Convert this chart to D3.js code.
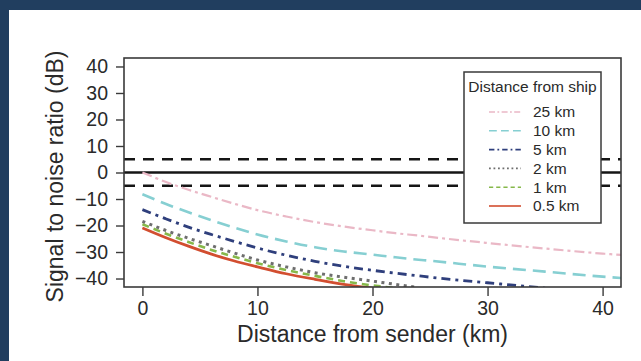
<!DOCTYPE html>
<html>
<head>
<meta charset="utf-8">
<script src="https://cdn.jsdelivr.net/npm/d3@7/dist/d3.min.js"></script>
<style>
  html, body { margin: 0; padding: 0; background: #fff; }
  svg { display: block; font-family: "Liberation Sans", Arial, sans-serif; }
</style>
</head>
<body>
<div id="chart"></div>
<script>
// distance from sender (km) sampled along the curves
const distances = [0, 2, 4, 6, 8, 10, 12.5, 15, 17.5, 20, 22, 24, 25, 30, 35, 40, 41.6];

// SNR (dB) per distance-from-ship (null = below plot)
const snr25 = [0, -3.5, -6.5, -9.2, -11.8, -14.2, -16.6, -18.7, -20.4, -21.8, -22.9, -23.8, -24.3, -26.6, -28.7, -30.6, -31.1];
const snr10 = [-8.2, -11.8, -15, -18, -20.8, -23.4, -26, -28.2, -29.8, -31, -32, -32.9, -33.3, -35.5, -37.4, -39.3, -39.8];
const snr5 = [-14, -17.4, -20.6, -23.4, -26, -28.5, -31.2, -33.5, -35.4, -36.9, -38, -39, -39.5, -41.6, -43.6, null, null];
const snr2 = [-18.4, -21.8, -24.8, -27.6, -30.4, -33, -35.6, -37.8, -39.5, -41, -42.2, -43.4, null, null, null, null, null];
const snr1 = [-19.5, -23, -26.2, -29.2, -31.8, -34.2, -36.8, -39, -41, -42.6, -43.6, null, null, null, null, null, null];
const snr05 = [-20.9, -24.5, -27.8, -30.8, -33.4, -35.6, -38.2, -40.3, -42.2, -43.6, null, null, null, null, null, null, null];

const seriesLabels = ['25 km', '10 km', '5 km', '2 km', '1 km', '0.5 km'];
const seriesValues = [snr25, snr10, snr5, snr2, snr1, snr05];

const yTicks = [-40, -30, -20, -10, 0, 10, 20, 30, 40];
const xTicks = [0, 10, 20, 30, 40];
const thresholds = [-5, 5];

const STYLES = {
  '25 km': { color: '#eab8c6', dash: '10,4,3,4', width: 2.2 },
  '10 km': { color: '#86cfd2', dash: '13,7', width: 2.6 },
  '5 km': { color: '#2f3f7c', dash: '9,5,3,5', width: 2.8 },
  '2 km': { color: '#6e6e6e', dash: '3,4.5', width: 3 },
  '1 km': { color: '#86b84a', dash: '7,5', width: 2.6 },
  '0.5 km': { color: '#d24e30', dash: null, width: 2.8 },
};

const width = 641;
const height = 361;
const plot = { left: 124, right: 621, top: 58, bottom: 287 };

const svg = d3.select('#chart')
  .append('svg')
  .attr('width', width)
  .attr('height', height);

// page frame
svg.append('rect').attr('width', width).attr('height', height).attr('fill', '#fff');
svg.append('rect').attr('width', width).attr('height', 10).attr('fill', '#213e5f');
svg.append('rect').attr('width', 9).attr('height', height).attr('fill', '#213e5f');

const x = d3.scaleLinear().domain([-1.6, 41.6]).range([plot.left, plot.right]);
const y = d3.scaleLinear().domain([-43.2, 43.2]).range([plot.bottom, plot.top]);

svg.append('clipPath').attr('id', 'plot-clip')
  .append('rect')
  .attr('x', plot.left).attr('y', plot.top)
  .attr('width', plot.right - plot.left).attr('height', plot.bottom - plot.top);

// reference lines
const g = svg.append('g').attr('clip-path', 'url(#plot-clip)');

g.append('line')
  .attr('x1', plot.left).attr('x2', plot.right)
  .attr('y1', y(0)).attr('y2', y(0))
  .attr('stroke', '#151515').attr('stroke-width', 2.6);

g.selectAll('line.thr')
  .data(thresholds)
  .join('line')
  .attr('class', 'thr')
  .attr('x1', plot.left).attr('x2', plot.right)
  .attr('y1', d => y(d)).attr('y2', d => y(d))
  .attr('stroke', '#151515').attr('stroke-width', 2.6)
  .attr('stroke-dasharray', '11,8');

// curves
const line = d3.line()
  .defined(d => d[1] !== null)
  .x(d => x(d[0]))
  .y(d => y(d[1]))
  .curve(d3.curveMonotoneX);

const series = seriesLabels.map((label, i) => ({
  label,
  points: distances.map((dist, j) => [dist, seriesValues[i][j]]),
}));

g.selectAll('path.curve')
  .data(series.slice().reverse())
  .join('path')
  .attr('class', 'curve')
  .attr('d', d => line(d.points))
  .attr('fill', 'none')
  .attr('stroke', d => STYLES[d.label].color)
  .attr('stroke-width', d => STYLES[d.label].width)
  .attr('stroke-dasharray', d => STYLES[d.label].dash);

// axes
const yAxis = svg.append('g')
  .attr('transform', `translate(${plot.left},0)`)
  .call(d3.axisLeft(y).tickValues(yTicks).tickSize(8).tickPadding(8));

const xAxis = svg.append('g')
  .attr('transform', `translate(0,${plot.bottom})`)
  .call(d3.axisBottom(x).tickValues(xTicks).tickSize(9).tickPadding(5));

[yAxis, xAxis].forEach(ax => {
  ax.select('.domain').remove();
  ax.selectAll('line').attr('stroke', '#3a3a3a').attr('stroke-width', 1.4);
  ax.selectAll('text')
    .attr('font-size', 19.5)
    .attr('fill', '#2a2a2a')
    .attr('font-family', '"Liberation Sans", Arial, sans-serif');
});

// plot box
svg.append('rect')
  .attr('x', plot.left).attr('y', plot.top)
  .attr('width', plot.right - plot.left).attr('height', plot.bottom - plot.top)
  .attr('fill', 'none').attr('stroke', '#3a3a3a').attr('stroke-width', 1.6);

// axis titles
svg.append('text')
  .attr('x', x(20)).attr('y', 342)
  .attr('text-anchor', 'middle')
  .attr('font-size', 23)
  .attr('fill', '#2a2a2a')
  .text('Distance from sender (km)');

svg.append('text')
  .attr('transform', `translate(63,${(plot.top + plot.bottom) / 2 + 4}) rotate(-90)`)
  .attr('text-anchor', 'middle')
  .attr('font-size', 23)
  .attr('fill', '#2a2a2a')
  .text('Signal to noise ratio (dB)');

// legend
const legend = svg.append('g');
legend.append('rect')
  .attr('x', 464).attr('y', 72)
  .attr('width', 137).attr('height', 151)
  .attr('fill', '#fff').attr('stroke', '#3a3a3a').attr('stroke-width', 1.5);

legend.append('text')
  .attr('x', 532.5).attr('y', 92)
  .attr('text-anchor', 'middle')
  .attr('font-size', 15.5)
  .attr('fill', '#2a2a2a')
  .text('Distance from ship');

const entry = legend.selectAll('g.entry')
  .data(seriesLabels)
  .join('g')
  .attr('class', 'entry')
  .attr('transform', (d, i) => `translate(0,${112 + i * 18.8})`);

entry.append('line')
  .attr('x1', 489).attr('x2', 521)
  .attr('stroke', d => STYLES[d].color)
  .attr('stroke-width', 1.6)
  .attr('stroke-dasharray', d => {
    const s = STYLES[d].dash;
    return s ? s.split(',').map(v => +v * 0.6).join(',') : null;
  });

entry.append('text')
  .attr('x', 533).attr('dy', '0.35em')
  .attr('font-size', 15.5)
  .attr('fill', '#2a2a2a')
  .text(d => d);
</script>
</body>
</html>
